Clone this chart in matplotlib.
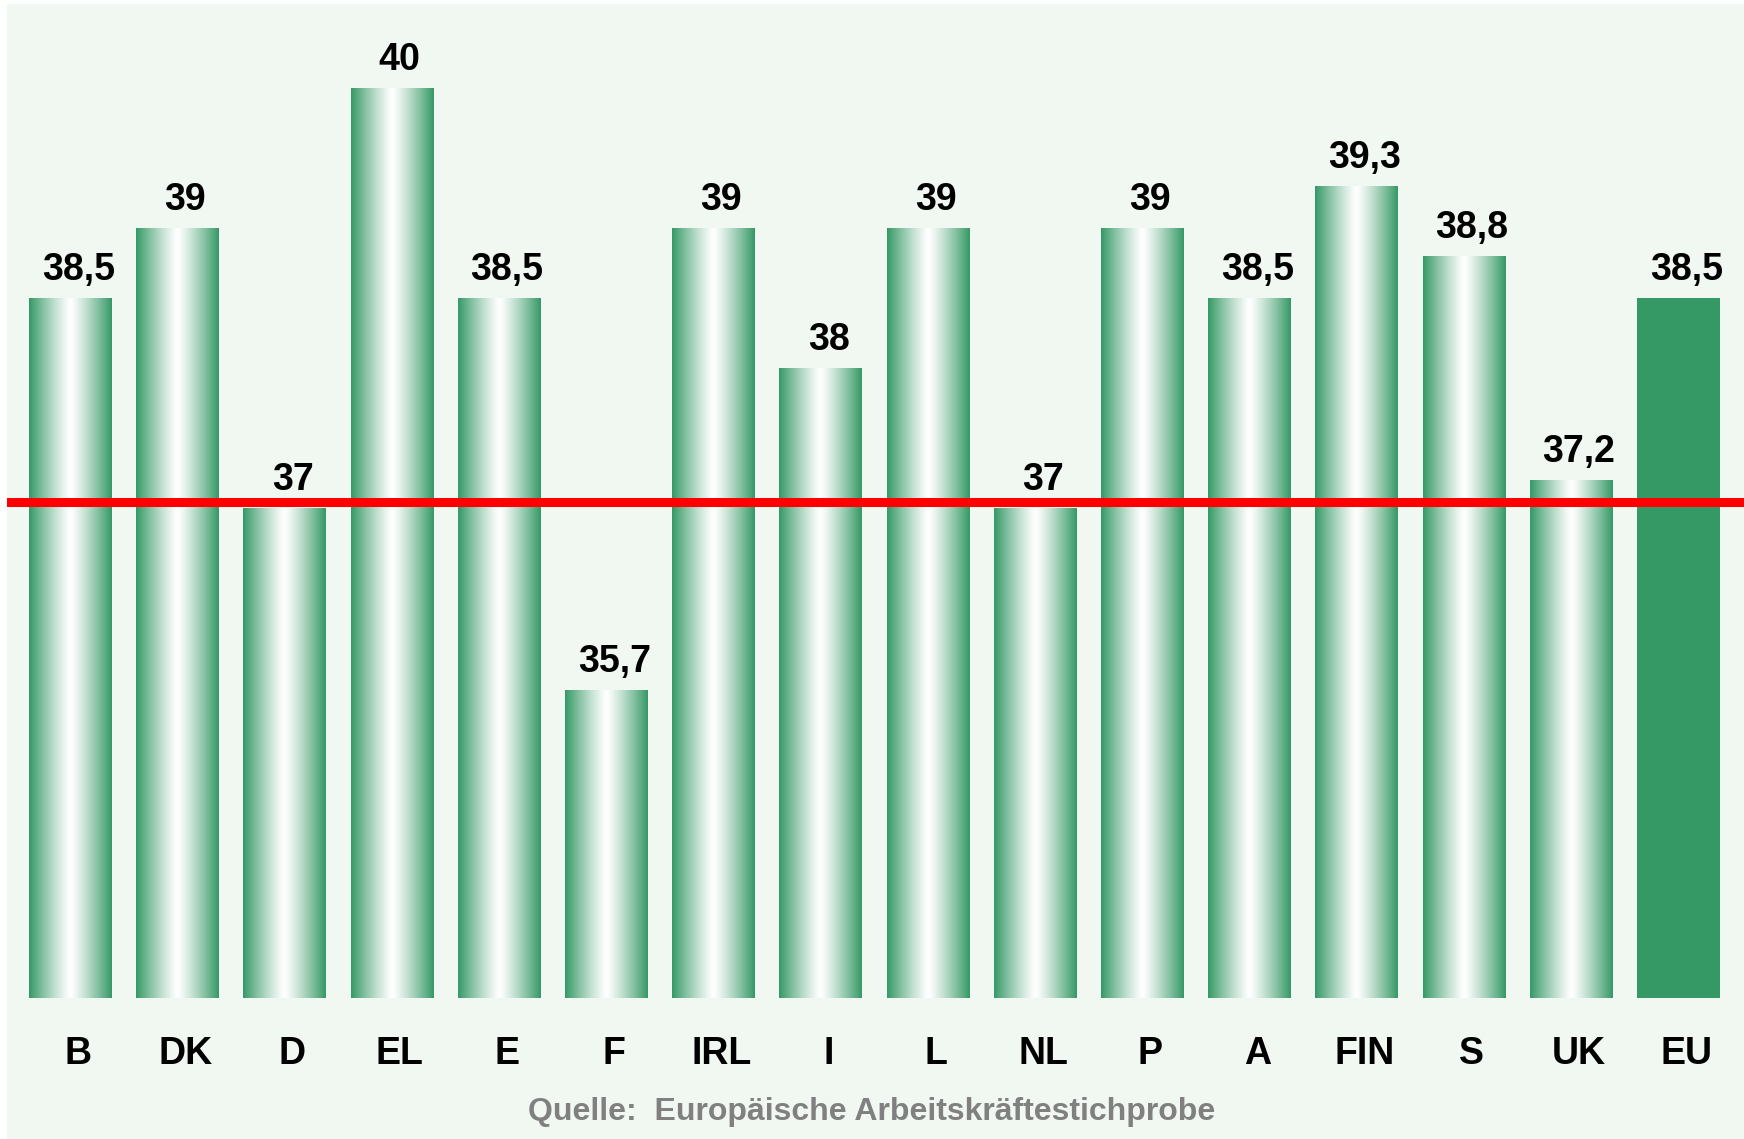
import numpy as np
import matplotlib
matplotlib.use("Agg")
import matplotlib.pyplot as plt
from matplotlib.colors import LinearSegmentedColormap

# Average weekly working hours by country
countries = ["B", "DK", "D", "EL", "E", "F", "IRL", "I", "L", "NL", "P", "A", "FIN", "S", "UK", "EU"]
hours = [38.5, 39, 37, 40, 38.5, 35.7, 39, 38, 39, 37, 39, 38.5, 39.3, 38.8, 37.2, 38.5]
reference_line = 37.04
source_text = "Quelle:  Europäische Arbeitskräftestichprobe"

W, H, DPI = 1744, 1139, 100
GREEN = "#359966"
BG = "#f1f8f1"
BASE = 33.5

fig = plt.figure(figsize=(W / DPI, H / DPI), dpi=DPI, facecolor="white")

ax = fig.add_axes([7 / W, 0, 1 - 7 / W, 1 - 4 / H])
ax.set_facecolor(BG)
pitch, x0 = 107.2, 70.5
for s in ax.spines.values():
    s.set_visible(False)
ax.set_xticks([])
ax.set_yticks([])

# horizontal green-white-green shading for the country bars
shade = LinearSegmentedColormap.from_list("shade", [GREEN, "white"])
u = np.linspace(0, 1, 256)
profile = 1 - np.abs(u - 0.5) * 2
profile = 1 - (1 - profile) ** 1.2
grad = profile[np.newaxis, :]

width = 0.774
label_y = 40 - (1064 - 88) / 140
for i, (c, v) in enumerate(zip(countries, hours)):
    left, right = i - width / 2, i + width / 2
    if c == "EU":
        ax.bar(i, v - BASE, bottom=BASE, width=width, color=GREEN, zorder=2)
    else:
        ax.imshow(grad, cmap=shade, vmin=0, vmax=1, aspect="auto", interpolation="bilinear",
                  extent=[left, right, BASE, v], zorder=2)
    label = f"{v:g}".replace(".", ",")
    ax.annotate(label, (i, v), xytext=(5.5, 13), textcoords="offset points",
                ha="center", va="baseline", fontsize=27, fontweight="bold",
                family="Liberation Sans", color="black", zorder=4)
    ax.annotate(c, (i, label_y), xytext=(5.5, 0), textcoords="offset points",
                ha="center", va="baseline", fontsize=27, fontweight="bold",
                family="Liberation Sans", color="black", zorder=4)

ax.axhline(reference_line, color="#ff0000", linewidth=6.5, zorder=3)
ax.set_xlim((7 - x0) / pitch, (W - x0) / pitch)
ax.set_ylim(40 - (H - 88) / 140, 40 - (4 - 88) / 140)

fig.text(0.5, 1 - 1120 / H, source_text, ha="center", va="baseline", fontsize=23,
         fontweight="bold", family="Liberation Sans", color="#808080")

fig.savefig("out.png", dpi=DPI, facecolor="white")
